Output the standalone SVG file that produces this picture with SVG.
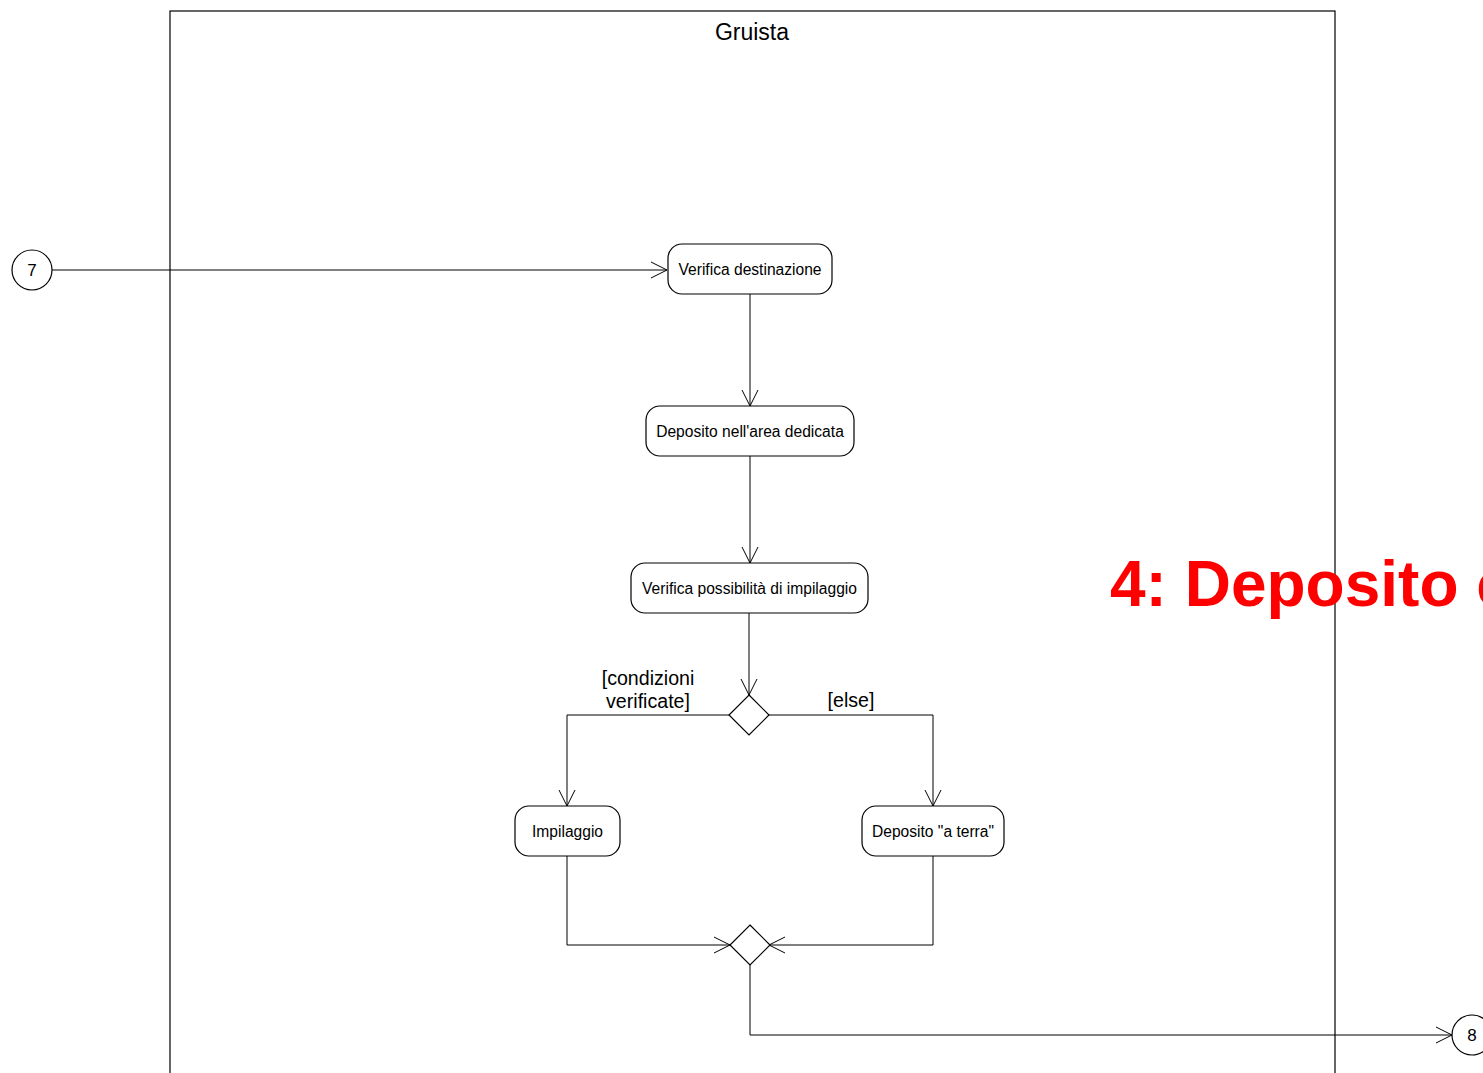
<svg xmlns="http://www.w3.org/2000/svg" width="1483" height="1073" viewBox="0 0 1483 1073">
<style>
.ln{fill:none;stroke:#000;stroke-width:1}
.nd{fill:#fff;stroke:#000;stroke-width:1.2}
.t{font-family:"Liberation Sans",Arial,sans-serif;font-size:15.6px;fill:#000;text-anchor:middle}
.g{font-family:"Liberation Sans",Arial,sans-serif;font-size:19.6px;fill:#000;text-anchor:middle}
</style>
<defs>
<marker id="a" viewBox="-16 -9 18 18" markerWidth="18" markerHeight="18" refX="0" refY="0" orient="auto" markerUnits="userSpaceOnUse">
<path d="M-16,-8 L0,0 L-16,8" fill="none" stroke="#000" stroke-width="1"/>
</marker>
</defs>
<rect width="1483" height="1073" fill="#fff"/>
<g id="lane">
<rect x="170" y="11" width="1165" height="1080" fill="none" stroke="#000" stroke-width="1.2"/>
<text x="752" y="40" class="g" style="font-size:23px">Gruista</text>
</g>
<text id="title" x="1110" y="606" font-family="Liberation Sans,Arial,sans-serif" font-weight="bold" font-size="64" fill="#ff0000">4: Deposito container</text>
<g id="connectors">
<path class="ln" d="M52,270 L667,270" marker-end="url(#a)"/>
<path class="ln" d="M750,294 L750,406" marker-end="url(#a)"/>
<path class="ln" d="M750,456 L750,563" marker-end="url(#a)"/>
<path class="ln" d="M749,613 L749,695" marker-end="url(#a)"/>
<path class="ln" d="M729,715 L567,715 L567,806" marker-end="url(#a)"/>
<path class="ln" d="M769,715 L933,715 L933,806" marker-end="url(#a)"/>
<path class="ln" d="M567,856 L567,945 L730,945" marker-end="url(#a)"/>
<path class="ln" d="M933,856 L933,945 L769,945" marker-end="url(#a)"/>
<path class="ln" d="M750,965 L750,1035 L1452,1035" marker-end="url(#a)"/>
<text x="648" y="685" class="g">[condizioni</text>
<text x="648" y="708" class="g">verificate]</text>
<text x="851" y="707" class="g">[else]</text>
</g>
<g id="c7"><circle class="nd" cx="32" cy="270" r="20"/><text x="32" y="276" class="t" style="font-size:17px">7</text></g>
<g id="n1"><rect class="nd" x="668" y="244" width="164" height="50" rx="14"/><text x="750" y="274.500" class="t">Verifica destinazione</text></g>
<g id="n2"><rect class="nd" x="646" y="406" width="208" height="50" rx="14"/><text x="750" y="436.500" class="t">Deposito nell'area dedicata</text></g>
<g id="n3"><rect class="nd" x="631" y="563" width="237" height="50" rx="14"/><text x="749.500" y="593.500" class="t">Verifica possibilità di impilaggio</text></g>
<g id="d1"><path class="nd" d="M749,695 L769,715 L749,735 L729,715 Z"/></g>
<g id="n4"><rect class="nd" x="515" y="806" width="105" height="50" rx="14"/><text x="567.500" y="836.500" class="t">Impilaggio</text></g>
<g id="n5"><rect class="nd" x="862" y="806" width="142" height="50" rx="14"/><text x="933" y="836.500" class="t">Deposito "a terra"</text></g>
<g id="d2"><path class="nd" d="M750,925 L770,945 L750,965 L730,945 Z"/></g>
<g id="c8"><circle class="nd" cx="1472" cy="1035" r="20"/><text x="1472" y="1041" class="t" style="font-size:17px">8</text></g>
</svg>
